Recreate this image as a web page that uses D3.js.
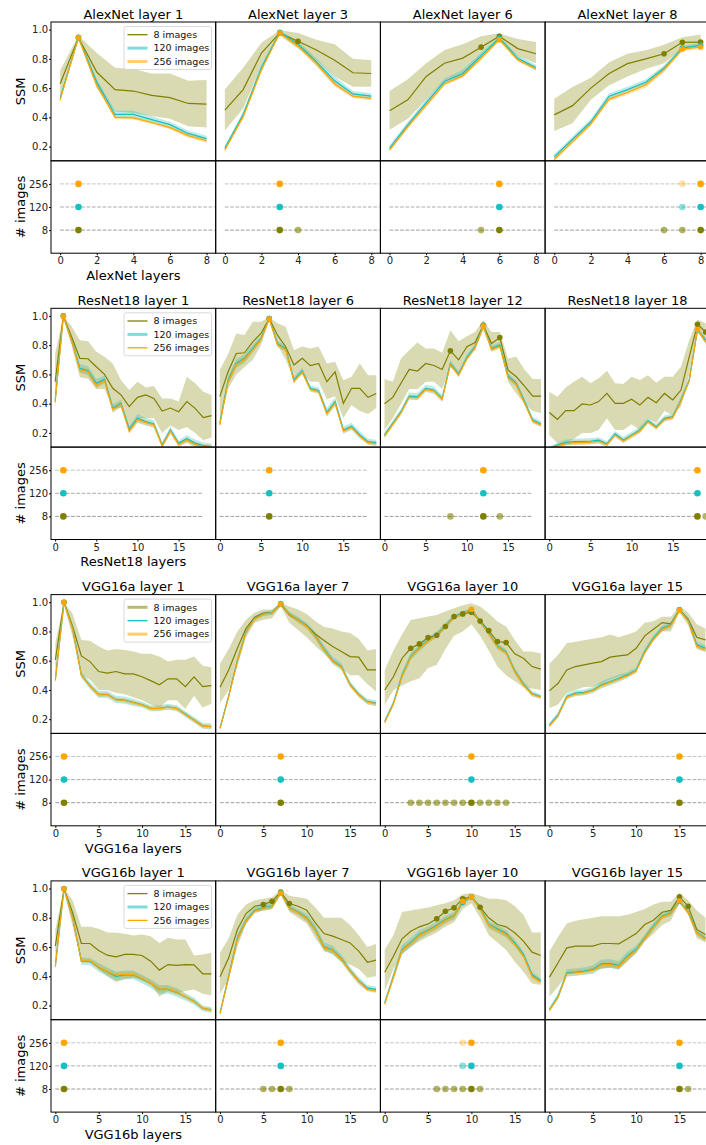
<!DOCTYPE html>
<html>
<head>
<meta charset="utf-8">
<script src="https://cdn.jsdelivr.net/npm/d3@7/dist/d3.min.js"></script>
<style>
  body { margin: 0; background: #fff; }
  svg { display: block; font-family: "DejaVu Sans", sans-serif; }
</style>
</head>
<body>
<div id="chart"></div>
<script>
// ---- categories / ticks ----
var models = ["AlexNet", "ResNet18", "VGG16a", "VGG16b"];
var nLayers = [9, 20, 19, 19];
var xTickValues = [[0, 2, 4, 6, 8], [0, 5, 10, 15], [0, 5, 10, 15], [0, 5, 10, 15]];
var targetLayers = [[1, 3, 6, 8], [1, 6, 12, 18], [1, 7, 10, 15], [1, 7, 10, 15]];
var imageCounts = ["8", "120", "256"];
var seriesLabels = ["8 images", "120 images", "256 images"];
var ssmTicks = [0.2, 0.4, 0.6, 0.8, 1.0];

// ---- AlexNet ----
var alex1_m8   = [0.63, 0.945, 0.71, 0.59, 0.58, 0.55, 0.535, 0.495, 0.49];
var alex1_lo8  = [0.53, 0.93, 0.60, 0.44, 0.43, 0.41, 0.39, 0.34, 0.33];
var alex1_hi8  = [0.72, 0.96, 0.84, 0.74, 0.73, 0.70, 0.70, 0.65, 0.655];
var alex1_m120 = [0.53, 0.947, 0.64, 0.42, 0.42, 0.385, 0.35, 0.29, 0.255];
var alex1_sd120 = [0.015, 0.01, 0.02, 0.025, 0.025, 0.022, 0.02, 0.02, 0.02];
var alex1_m256 = [0.52, 0.945, 0.62, 0.40, 0.397, 0.365, 0.33, 0.275, 0.24];
var alex1_sd256 = [0.012, 0.01, 0.018, 0.012, 0.012, 0.012, 0.012, 0.014, 0.014];

var alex3_m8   = [0.45, 0.59, 0.84, 0.977, 0.92, 0.86, 0.79, 0.705, 0.70];
var alex3_lo8  = [0.31, 0.46, 0.75, 0.96, 0.87, 0.79, 0.68, 0.61, 0.61];
var alex3_hi8  = [0.59, 0.74, 0.91, 0.995, 0.977, 0.93, 0.90, 0.80, 0.79];
var alex3_m120 = [0.19, 0.42, 0.74, 0.982, 0.90, 0.78, 0.65, 0.56, 0.545];
var alex3_sd120 = [0.015, 0.02, 0.02, 0.01, 0.02, 0.025, 0.03, 0.02, 0.02];
var alex3_m256 = [0.177, 0.405, 0.725, 0.977, 0.89, 0.77, 0.63, 0.545, 0.53];
var alex3_sd256 = [0.012, 0.015, 0.015, 0.01, 0.015, 0.02, 0.02, 0.015, 0.015];

var alex6_m8   = [0.445, 0.52, 0.68, 0.77, 0.805, 0.88, 0.955, 0.87, 0.835];
var alex6_lo8  = [0.315, 0.39, 0.52, 0.65, 0.68, 0.82, 0.93, 0.82, 0.77];
var alex6_hi8  = [0.58, 0.66, 0.77, 0.86, 0.90, 0.955, 0.975, 0.935, 0.915];
var alex6_m120 = [0.19, 0.35, 0.50, 0.645, 0.70, 0.82, 0.943, 0.805, 0.74];
var alex6_sd120 = [0.02, 0.02, 0.02, 0.02, 0.025, 0.02, 0.01, 0.02, 0.02];
var alex6_m256 = [0.177, 0.337, 0.483, 0.63, 0.685, 0.806, 0.931, 0.794, 0.733];
var alex6_sd256 = [0.012, 0.015, 0.015, 0.015, 0.015, 0.015, 0.01, 0.012, 0.012];

var alex8_m8   = [0.417, 0.48, 0.60, 0.70, 0.767, 0.80, 0.835, 0.913, 0.915];
var alex8_lo8  = [0.307, 0.36, 0.52, 0.62, 0.68, 0.73, 0.77, 0.87, 0.886];
var alex8_hi8  = [0.527, 0.607, 0.67, 0.776, 0.835, 0.858, 0.897, 0.947, 0.966];
var alex8_m120 = [0.13, 0.25, 0.37, 0.545, 0.59, 0.64, 0.737, 0.874, 0.893];
var alex8_sd120 = [0.02, 0.02, 0.02, 0.02, 0.02, 0.02, 0.02, 0.015, 0.015];
var alex8_m256 = [0.113, 0.234, 0.355, 0.525, 0.57, 0.623, 0.726, 0.867, 0.881];
var alex8_sd256 = [0.015, 0.015, 0.015, 0.015, 0.015, 0.02, 0.02, 0.015, 0.015];

// ---- ResNet18 ----
var res1_m8   = [0.55, 1.0, 0.857, 0.71, 0.707, 0.652, 0.60, 0.505, 0.46, 0.38, 0.443, 0.46, 0.436, 0.35, 0.37, 0.345, 0.414, 0.368, 0.305, 0.318];
var res1_lo8  = [0.37, 0.98, 0.80, 0.58, 0.57, 0.50, 0.50, 0.37, 0.37, 0.22, 0.30, 0.30, 0.30, 0.20, 0.25, 0.22, 0.24, 0.20, 0.15, 0.17];
var res1_hi8  = [0.74, 1.0, 0.93, 0.834, 0.827, 0.755, 0.72, 0.675, 0.56, 0.493, 0.55, 0.51, 0.52, 0.436, 0.436, 0.414, 0.584, 0.539, 0.482, 0.459];
var res1_m120 = [0.42, 1.0, 0.834, 0.641, 0.625, 0.539, 0.566, 0.368, 0.402, 0.225, 0.30, 0.277, 0.261, 0.118, 0.22, 0.13, 0.16, 0.13, 0.114, 0.107];
var res1_sd120 = [0.02, 0.005, 0.02, 0.03, 0.03, 0.03, 0.025, 0.03, 0.025, 0.02, 0.03, 0.025, 0.025, 0.02, 0.025, 0.02, 0.025, 0.025, 0.02, 0.02];
var res1_m256 = [0.41, 0.998, 0.83, 0.633, 0.618, 0.525, 0.558, 0.36, 0.395, 0.21, 0.29, 0.27, 0.255, 0.11, 0.213, 0.12, 0.15, 0.12, 0.108, 0.105];
var res1_sd256 = [0.015, 0.005, 0.015, 0.02, 0.02, 0.02, 0.02, 0.02, 0.02, 0.015, 0.02, 0.02, 0.02, 0.015, 0.02, 0.015, 0.02, 0.02, 0.015, 0.015];

var res6_m8   = [0.448, 0.618, 0.743, 0.748, 0.823, 0.88, 0.982, 0.868, 0.789, 0.664, 0.71, 0.66, 0.675, 0.55, 0.618, 0.402, 0.505, 0.505, 0.443, 0.47];
var res6_lo8  = [0.28, 0.50, 0.60, 0.65, 0.70, 0.80, 0.97, 0.80, 0.70, 0.57, 0.60, 0.55, 0.55, 0.43, 0.45, 0.30, 0.39, 0.35, 0.33, 0.37];
var res6_hi8  = [0.63, 0.74, 0.88, 0.87, 0.96, 0.96, 0.99, 0.95, 0.925, 0.766, 0.79, 0.777, 0.79, 0.675, 0.686, 0.56, 0.584, 0.675, 0.595, 0.595];
var res6_m120 = [0.266, 0.56, 0.675, 0.71, 0.777, 0.845, 0.982, 0.81, 0.777, 0.56, 0.625, 0.505, 0.49, 0.34, 0.414, 0.22, 0.245, 0.186, 0.14, 0.134];
var res6_sd120 = [0.02, 0.03, 0.03, 0.03, 0.025, 0.02, 0.01, 0.02, 0.02, 0.02, 0.02, 0.02, 0.02, 0.03, 0.03, 0.025, 0.025, 0.025, 0.02, 0.02];
var res6_m256 = [0.255, 0.55, 0.668, 0.703, 0.77, 0.84, 0.978, 0.802, 0.77, 0.553, 0.617, 0.497, 0.482, 0.332, 0.405, 0.213, 0.238, 0.178, 0.133, 0.126];
var res6_sd256 = [0.015, 0.02, 0.02, 0.02, 0.02, 0.015, 0.01, 0.015, 0.015, 0.015, 0.015, 0.015, 0.015, 0.02, 0.02, 0.015, 0.015, 0.015, 0.015, 0.015];

var res12_m8   = [0.40, 0.443, 0.54, 0.634, 0.623, 0.675, 0.661, 0.634, 0.761, 0.70, 0.789, 0.818, 0.936, 0.811, 0.852, 0.63, 0.584, 0.52, 0.452, 0.452];
var res12_lo8  = [0.22, 0.30, 0.40, 0.50, 0.50, 0.55, 0.55, 0.50, 0.65, 0.60, 0.72, 0.77, 0.90, 0.76, 0.80, 0.55, 0.47, 0.40, 0.35, 0.334];
var res12_hi8  = [0.568, 0.55, 0.709, 0.766, 0.818, 0.777, 0.777, 0.748, 0.902, 0.827, 0.861, 0.89, 0.97, 0.89, 0.89, 0.709, 0.72, 0.634, 0.568, 0.568];
var res12_m120 = [0.186, 0.266, 0.345, 0.452, 0.448, 0.505, 0.493, 0.436, 0.675, 0.602, 0.716, 0.789, 0.936, 0.777, 0.80, 0.589, 0.539, 0.414, 0.289, 0.261];
var res12_sd120 = [0.02, 0.02, 0.02, 0.025, 0.025, 0.025, 0.025, 0.025, 0.02, 0.02, 0.02, 0.02, 0.01, 0.02, 0.02, 0.02, 0.02, 0.02, 0.02, 0.02];
var res12_m256 = [0.178, 0.258, 0.338, 0.445, 0.44, 0.498, 0.486, 0.43, 0.668, 0.595, 0.708, 0.782, 0.93, 0.77, 0.792, 0.58, 0.53, 0.405, 0.28, 0.255];
var res12_sd256 = [0.015, 0.015, 0.015, 0.015, 0.015, 0.015, 0.015, 0.015, 0.015, 0.015, 0.015, 0.015, 0.01, 0.015, 0.015, 0.015, 0.015, 0.015, 0.015, 0.015];

var res18_m8   = [0.339, 0.293, 0.352, 0.352, 0.398, 0.391, 0.414, 0.47, 0.402, 0.402, 0.43, 0.391, 0.443, 0.407, 0.47, 0.425, 0.493, 0.72, 0.943, 0.89];
var res18_lo8  = [0.186, 0.13, 0.13, 0.16, 0.20, 0.20, 0.22, 0.30, 0.22, 0.22, 0.26, 0.22, 0.30, 0.27, 0.35, 0.32, 0.38, 0.60, 0.90, 0.82];
var res18_hi8  = [0.482, 0.448, 0.511, 0.55, 0.584, 0.539, 0.573, 0.625, 0.539, 0.534, 0.584, 0.561, 0.595, 0.543, 0.584, 0.584, 0.652, 0.834, 0.975, 0.95];
var res18_m120 = [0.095, 0.118, 0.134, 0.141, 0.141, 0.143, 0.15, 0.125, 0.193, 0.152, 0.186, 0.22, 0.284, 0.243, 0.30, 0.311, 0.425, 0.561, 0.905, 0.834];
var res18_sd120 = [0.01, 0.015, 0.02, 0.02, 0.02, 0.02, 0.02, 0.02, 0.02, 0.02, 0.02, 0.02, 0.02, 0.02, 0.02, 0.02, 0.02, 0.02, 0.015, 0.02];
var res18_m256 = [0.09, 0.11, 0.127, 0.133, 0.134, 0.137, 0.143, 0.12, 0.186, 0.145, 0.18, 0.213, 0.277, 0.236, 0.293, 0.305, 0.418, 0.555, 0.907, 0.82];
var res18_sd256 = [0.01, 0.01, 0.015, 0.015, 0.015, 0.015, 0.015, 0.015, 0.015, 0.015, 0.015, 0.015, 0.015, 0.015, 0.015, 0.015, 0.015, 0.015, 0.012, 0.015];

// ---- VGG16a ----
var vgga1_m8   = [0.606, 1.0, 0.834, 0.633, 0.594, 0.526, 0.515, 0.526, 0.51, 0.51, 0.49, 0.464, 0.435, 0.476, 0.476, 0.423, 0.49, 0.423, 0.43];
var vgga1_lo8  = [0.46, 0.98, 0.76, 0.50, 0.47, 0.40, 0.40, 0.38, 0.37, 0.35, 0.33, 0.30, 0.28, 0.33, 0.33, 0.27, 0.36, 0.28, 0.305];
var vgga1_hi8  = [0.72, 1.0, 0.92, 0.742, 0.736, 0.697, 0.67, 0.68, 0.674, 0.663, 0.647, 0.647, 0.628, 0.594, 0.606, 0.606, 0.628, 0.565, 0.556];
var vgga1_m120 = [0.47, 1.0, 0.82, 0.503, 0.43, 0.37, 0.37, 0.335, 0.33, 0.315, 0.30, 0.275, 0.275, 0.285, 0.275, 0.235, 0.195, 0.155, 0.15];
var vgga1_sd120 = [0.02, 0.005, 0.02, 0.02, 0.025, 0.025, 0.025, 0.025, 0.025, 0.025, 0.02, 0.02, 0.02, 0.02, 0.02, 0.02, 0.02, 0.02, 0.02];
var vgga1_m256 = [0.465, 0.998, 0.815, 0.50, 0.427, 0.367, 0.368, 0.333, 0.328, 0.313, 0.298, 0.273, 0.273, 0.283, 0.273, 0.233, 0.193, 0.153, 0.148];
var vgga1_sd256 = [0.015, 0.005, 0.015, 0.015, 0.015, 0.015, 0.015, 0.015, 0.015, 0.015, 0.015, 0.015, 0.015, 0.015, 0.015, 0.015, 0.015, 0.015, 0.015];

var vgga7_m8   = [0.419, 0.537, 0.685, 0.822, 0.897, 0.925, 0.929, 0.986, 0.913, 0.879, 0.84, 0.783, 0.738, 0.697, 0.663, 0.628, 0.624, 0.537, 0.537];
var vgga7_lo8  = [0.31, 0.40, 0.56, 0.76, 0.86, 0.88, 0.89, 0.97, 0.86, 0.81, 0.76, 0.70, 0.65, 0.59, 0.55, 0.50, 0.50, 0.44, 0.39];
var vgga7_hi8  = [0.58, 0.68, 0.80, 0.88, 0.93, 0.95, 0.95, 0.995, 0.97, 0.95, 0.92, 0.87, 0.83, 0.82, 0.80, 0.79, 0.75, 0.67, 0.68];
var vgga7_m120 = [0.14, 0.36, 0.60, 0.80, 0.89, 0.92, 0.93, 0.99, 0.92, 0.88, 0.84, 0.77, 0.68, 0.60, 0.56, 0.44, 0.37, 0.32, 0.31];
var vgga7_sd120 = [0.015, 0.02, 0.02, 0.02, 0.015, 0.015, 0.015, 0.01, 0.015, 0.02, 0.02, 0.025, 0.025, 0.025, 0.025, 0.02, 0.02, 0.02, 0.02];
var vgga7_m256 = [0.137, 0.355, 0.595, 0.797, 0.887, 0.918, 0.928, 0.987, 0.917, 0.877, 0.835, 0.765, 0.675, 0.595, 0.555, 0.435, 0.365, 0.318, 0.305];
var vgga7_sd256 = [0.012, 0.015, 0.015, 0.015, 0.012, 0.012, 0.012, 0.01, 0.012, 0.015, 0.015, 0.015, 0.015, 0.015, 0.015, 0.015, 0.015, 0.015, 0.015];

var vgga10_m8   = [0.40, 0.49, 0.617, 0.685, 0.715, 0.758, 0.774, 0.834, 0.902, 0.92, 0.932, 0.872, 0.806, 0.731, 0.724, 0.647, 0.617, 0.56, 0.542];
var vgga10_lo8  = [0.298, 0.40, 0.43, 0.46, 0.48, 0.55, 0.57, 0.68, 0.77, 0.80, 0.85, 0.77, 0.67, 0.56, 0.50, 0.46, 0.42, 0.41, 0.40];
var vgga10_hi8  = [0.537, 0.67, 0.78, 0.879, 0.89, 0.902, 0.913, 0.936, 0.959, 0.98, 0.993, 0.97, 0.925, 0.868, 0.834, 0.742, 0.663, 0.663, 0.65];
var vgga10_m120 = [0.184, 0.31, 0.50, 0.63, 0.69, 0.74, 0.78, 0.84, 0.90, 0.925, 0.95, 0.87, 0.79, 0.70, 0.66, 0.53, 0.44, 0.375, 0.355];
var vgga10_sd120 = [0.015, 0.02, 0.025, 0.025, 0.025, 0.02, 0.02, 0.02, 0.015, 0.015, 0.01, 0.015, 0.02, 0.02, 0.02, 0.02, 0.02, 0.02, 0.015];
var vgga10_m256 = [0.178, 0.305, 0.495, 0.625, 0.685, 0.735, 0.775, 0.835, 0.895, 0.92, 0.952, 0.865, 0.785, 0.695, 0.655, 0.525, 0.435, 0.37, 0.35];
var vgga10_sd256 = [0.012, 0.015, 0.015, 0.015, 0.015, 0.015, 0.015, 0.015, 0.012, 0.012, 0.01, 0.012, 0.015, 0.015, 0.015, 0.015, 0.015, 0.015, 0.012];

var vgga15_m8   = [0.394, 0.446, 0.537, 0.56, 0.572, 0.583, 0.594, 0.624, 0.633, 0.64, 0.685, 0.77, 0.815, 0.861, 0.852, 0.948, 0.884, 0.76, 0.742];
var vgga15_lo8  = [0.275, 0.30, 0.38, 0.40, 0.42, 0.42, 0.44, 0.47, 0.49, 0.50, 0.55, 0.65, 0.74, 0.80, 0.80, 0.93, 0.84, 0.68, 0.66];
var vgga15_hi8  = [0.58, 0.64, 0.72, 0.73, 0.74, 0.75, 0.76, 0.78, 0.76, 0.78, 0.80, 0.86, 0.87, 0.90, 0.90, 0.97, 0.93, 0.85, 0.82];
var vgga15_m120 = [0.161, 0.23, 0.355, 0.378, 0.383, 0.40, 0.435, 0.458, 0.48, 0.503, 0.537, 0.663, 0.754, 0.822, 0.845, 0.948, 0.879, 0.708, 0.685];
var vgga15_sd120 = [0.015, 0.02, 0.02, 0.02, 0.02, 0.02, 0.025, 0.025, 0.025, 0.02, 0.02, 0.02, 0.02, 0.02, 0.02, 0.01, 0.015, 0.02, 0.02];
var vgga15_m256 = [0.155, 0.225, 0.35, 0.372, 0.378, 0.395, 0.43, 0.452, 0.474, 0.497, 0.53, 0.656, 0.747, 0.815, 0.84, 0.945, 0.872, 0.70, 0.678];
var vgga15_sd256 = [0.012, 0.015, 0.015, 0.015, 0.015, 0.015, 0.015, 0.015, 0.015, 0.015, 0.015, 0.015, 0.015, 0.015, 0.015, 0.01, 0.012, 0.015, 0.015];

// ---- VGG16b ----
var vggb1_m8   = [0.606, 0.998, 0.834, 0.624, 0.624, 0.576, 0.544, 0.533, 0.549, 0.549, 0.542, 0.503, 0.442, 0.48, 0.474, 0.48, 0.478, 0.417, 0.417];
var vggb1_lo8  = [0.46, 0.98, 0.74, 0.51, 0.51, 0.45, 0.40, 0.36, 0.38, 0.39, 0.38, 0.35, 0.26, 0.30, 0.28, 0.30, 0.31, 0.28, 0.27];
var vggb1_hi8  = [0.72, 1.0, 0.92, 0.738, 0.738, 0.724, 0.70, 0.697, 0.69, 0.679, 0.685, 0.674, 0.628, 0.663, 0.651, 0.651, 0.542, 0.549, 0.56];
var vggb1_m120 = [0.47, 1.0, 0.80, 0.503, 0.50, 0.46, 0.43, 0.40, 0.41, 0.41, 0.38, 0.35, 0.31, 0.31, 0.29, 0.26, 0.23, 0.18, 0.17];
var vggb1_sd120 = [0.02, 0.005, 0.02, 0.025, 0.025, 0.03, 0.03, 0.03, 0.03, 0.03, 0.03, 0.03, 0.03, 0.03, 0.03, 0.025, 0.025, 0.02, 0.02];
var vggb1_m256 = [0.465, 0.998, 0.795, 0.505, 0.505, 0.462, 0.432, 0.408, 0.412, 0.412, 0.385, 0.352, 0.312, 0.312, 0.292, 0.262, 0.228, 0.182, 0.168];
var vggb1_sd256 = [0.015, 0.005, 0.015, 0.015, 0.015, 0.02, 0.02, 0.02, 0.02, 0.02, 0.02, 0.02, 0.02, 0.02, 0.02, 0.02, 0.015, 0.015, 0.015];

var vggb7_m8   = [0.396, 0.526, 0.72, 0.829, 0.879, 0.89, 0.913, 0.975, 0.897, 0.879, 0.852, 0.765, 0.692, 0.674, 0.651, 0.628, 0.572, 0.496, 0.51];
var vggb7_lo8  = [0.28, 0.38, 0.60, 0.76, 0.84, 0.85, 0.86, 0.96, 0.84, 0.80, 0.76, 0.66, 0.58, 0.55, 0.50, 0.48, 0.45, 0.39, 0.40];
var vggb7_hi8  = [0.56, 0.66, 0.82, 0.89, 0.92, 0.93, 0.94, 0.99, 0.95, 0.94, 0.93, 0.87, 0.80, 0.80, 0.80, 0.75, 0.68, 0.60, 0.62];
var vggb7_m120 = [0.15, 0.40, 0.66, 0.78, 0.85, 0.87, 0.88, 0.97, 0.87, 0.84, 0.80, 0.72, 0.60, 0.58, 0.52, 0.44, 0.37, 0.32, 0.31];
var vggb7_sd120 = [0.015, 0.025, 0.03, 0.025, 0.02, 0.02, 0.02, 0.01, 0.02, 0.02, 0.025, 0.03, 0.03, 0.03, 0.025, 0.025, 0.025, 0.02, 0.02];
var vggb7_m256 = [0.145, 0.395, 0.655, 0.775, 0.845, 0.865, 0.875, 0.968, 0.865, 0.835, 0.795, 0.715, 0.595, 0.575, 0.515, 0.435, 0.365, 0.31, 0.30];
var vggb7_sd256 = [0.012, 0.015, 0.02, 0.015, 0.015, 0.015, 0.015, 0.01, 0.015, 0.015, 0.015, 0.02, 0.02, 0.02, 0.02, 0.02, 0.02, 0.015, 0.015];

var vggb10_m8   = [0.428, 0.537, 0.656, 0.708, 0.738, 0.758, 0.793, 0.845, 0.868, 0.929, 0.943, 0.872, 0.80, 0.754, 0.738, 0.697, 0.64, 0.565, 0.542];
var vggb10_lo8  = [0.30, 0.45, 0.55, 0.60, 0.64, 0.67, 0.70, 0.74, 0.77, 0.86, 0.90, 0.80, 0.68, 0.63, 0.58, 0.50, 0.43, 0.35, 0.34];
var vggb10_hi8  = [0.583, 0.68, 0.84, 0.85, 0.86, 0.87, 0.885, 0.90, 0.92, 0.96, 0.97, 0.95, 0.93, 0.93, 0.92, 0.88, 0.82, 0.70, 0.70];
var vggb10_m120 = [0.22, 0.40, 0.583, 0.63, 0.685, 0.715, 0.747, 0.788, 0.815, 0.905, 0.943, 0.868, 0.754, 0.724, 0.692, 0.628, 0.55, 0.41, 0.37];
var vggb10_sd120 = [0.015, 0.03, 0.03, 0.03, 0.03, 0.025, 0.025, 0.025, 0.025, 0.015, 0.01, 0.02, 0.025, 0.025, 0.025, 0.025, 0.02, 0.02, 0.015];
var vggb10_m256 = [0.21, 0.395, 0.578, 0.625, 0.68, 0.71, 0.742, 0.783, 0.81, 0.913, 0.943, 0.862, 0.75, 0.718, 0.686, 0.62, 0.54, 0.40, 0.36];
var vggb10_sd256 = [0.012, 0.02, 0.02, 0.02, 0.02, 0.02, 0.02, 0.02, 0.02, 0.012, 0.01, 0.015, 0.02, 0.02, 0.02, 0.02, 0.015, 0.015, 0.012];

var vggb15_m8   = [0.394, 0.492, 0.594, 0.606, 0.606, 0.606, 0.624, 0.624, 0.622, 0.656, 0.692, 0.754, 0.783, 0.838, 0.85, 0.943, 0.879, 0.72, 0.685];
var vggb15_lo8  = [0.26, 0.33, 0.41, 0.43, 0.43, 0.44, 0.45, 0.46, 0.45, 0.50, 0.56, 0.64, 0.69, 0.75, 0.78, 0.90, 0.83, 0.66, 0.63];
var vggb15_hi8  = [0.57, 0.67, 0.76, 0.78, 0.79, 0.80, 0.81, 0.81, 0.81, 0.82, 0.84, 0.86, 0.89, 0.91, 0.91, 0.97, 0.92, 0.85, 0.80];
var vggb15_m120 = [0.173, 0.264, 0.423, 0.428, 0.435, 0.446, 0.485, 0.487, 0.474, 0.537, 0.583, 0.663, 0.742, 0.811, 0.834, 0.913, 0.84, 0.70, 0.66];
var vggb15_sd120 = [0.015, 0.02, 0.025, 0.025, 0.025, 0.03, 0.03, 0.03, 0.03, 0.03, 0.025, 0.025, 0.025, 0.02, 0.02, 0.015, 0.02, 0.02, 0.02];
var vggb15_m256 = [0.168, 0.258, 0.418, 0.423, 0.43, 0.44, 0.478, 0.48, 0.468, 0.53, 0.577, 0.657, 0.736, 0.805, 0.828, 0.915, 0.835, 0.695, 0.655];
var vggb15_sd256 = [0.012, 0.015, 0.02, 0.02, 0.02, 0.02, 0.02, 0.02, 0.02, 0.02, 0.02, 0.02, 0.02, 0.015, 0.015, 0.012, 0.015, 0.015, 0.015];

// best layer (full dot) and not-significantly-different layers (faded dot), per image count [8, 120, 256]
var bestLayers = [
  [[[1], [1], [1]], [[3], [3], [3]], [[6], [6], [6]], [[8], [8], [8]]],
  [[[1], [1], [1]], [[6], [6], [6]], [[12], [12], [12]], [[18], [18], [18]]],
  [[[1], [1], [1]], [[7], [7], [7]], [[10], [10], [10]], [[15], [15], [15]]],
  [[[1], [1], [1]], [[7], [7], [7]], [[10], [10], [10]], [[15], [15], [15]]]
];
var nearLayers = [
  [[[], [], []], [[4], [], []], [[5], [], []], [[6, 7], [7], [7]]],
  [[[], [], []], [[], [], []], [[8, 14], [], []], [[19], [], []]],
  [[[], [], []], [[], [], []], [[3, 4, 5, 6, 7, 8, 9, 11, 12, 13, 14], [], []], [[], [], []]],
  [[[], [], []], [[5, 6, 8], [], []], [[6, 7, 8, 9, 11], [9], [9]], [[16], [], []]]
];

// table of panels, built from the arrays above
var panelData = [
  [[alex1_m8, alex1_lo8, alex1_hi8, alex1_m120, alex1_sd120, alex1_m256, alex1_sd256],
   [alex3_m8, alex3_lo8, alex3_hi8, alex3_m120, alex3_sd120, alex3_m256, alex3_sd256],
   [alex6_m8, alex6_lo8, alex6_hi8, alex6_m120, alex6_sd120, alex6_m256, alex6_sd256],
   [alex8_m8, alex8_lo8, alex8_hi8, alex8_m120, alex8_sd120, alex8_m256, alex8_sd256]],
  [[res1_m8, res1_lo8, res1_hi8, res1_m120, res1_sd120, res1_m256, res1_sd256],
   [res6_m8, res6_lo8, res6_hi8, res6_m120, res6_sd120, res6_m256, res6_sd256],
   [res12_m8, res12_lo8, res12_hi8, res12_m120, res12_sd120, res12_m256, res12_sd256],
   [res18_m8, res18_lo8, res18_hi8, res18_m120, res18_sd120, res18_m256, res18_sd256]],
  [[vgga1_m8, vgga1_lo8, vgga1_hi8, vgga1_m120, vgga1_sd120, vgga1_m256, vgga1_sd256],
   [vgga7_m8, vgga7_lo8, vgga7_hi8, vgga7_m120, vgga7_sd120, vgga7_m256, vgga7_sd256],
   [vgga10_m8, vgga10_lo8, vgga10_hi8, vgga10_m120, vgga10_sd120, vgga10_m256, vgga10_sd256],
   [vgga15_m8, vgga15_lo8, vgga15_hi8, vgga15_m120, vgga15_sd120, vgga15_m256, vgga15_sd256]],
  [[vggb1_m8, vggb1_lo8, vggb1_hi8, vggb1_m120, vggb1_sd120, vggb1_m256, vggb1_sd256],
   [vggb7_m8, vggb7_lo8, vggb7_hi8, vggb7_m120, vggb7_sd120, vggb7_m256, vggb7_sd256],
   [vggb10_m8, vggb10_lo8, vggb10_hi8, vggb10_m120, vggb10_sd120, vggb10_m256, vggb10_sd256],
   [vggb15_m8, vggb15_lo8, vggb15_hi8, vggb15_m120, vggb15_sd120, vggb15_m256, vggb15_sd256]]
];

// ---- layout / style ----
var svgWidth = 706;
var svgHeight = 1145;
var left = 51;
var colW = 164.7;
var rowTop0 = 22;
var rowStep = 286.3;
var topH = 138.8;
var botH = 92.4;

var colors = ["#808000", "#17bfc0", "#ffa500"];
var fadeAlpha = [0.6, 0.5, 0.35];
var dashColors = ["#9c9c9c", "#ababab", "#c4c4c4"];
var dashEnd = [8.45, 18, 18, 18];
// legend handle type per row: "line" = thin line, "band" = thick faded line
var legendStyle = [["line", "band", "band"], ["line", "band", "line"], ["band", "line", "band"], ["line", "band", "line"]];

var svg = d3.select("#chart").append("svg")
  .attr("width", svgWidth)
  .attr("height", svgHeight);

var yScale = d3.scaleLinear().domain([0.103, 1.052]).range([topH, 0]);
var yImg = d3.scaleLinear().domain([-1, 3]).range([botH, 0]);

models.forEach(function(model, r) {
  var n = nLayers[r];
  var xScale = d3.scaleLinear().domain([-0.5, n - 0.5]).range([0, colW]);
  var layers = d3.range(n);
  var rowTop = rowTop0 + r * rowStep;

  targetLayers[r].forEach(function(target, c) {
    var d = panelData[r][c];
    var means = [d[0], d[3], d[5]];
    var los = [d[1], d[3].map((v, i) => v - d[4][i]), d[5].map((v, i) => v - d[6][i])];
    var his = [d[2], d[3].map((v, i) => v + d[4][i]), d[5].map((v, i) => v + d[6][i])];
    var x0 = left + c * colW;

    // title
    svg.append("text")
      .attr("x", x0 + colW / 2)
      .attr("y", rowTop - 3.5)
      .attr("text-anchor", "middle")
      .attr("font-size", "13px")
      .attr("fill", "#000")
      .text(model + " layer " + target);

    // ---- top panel (SSM) ----
    var top = svg.append("g").attr("transform", `translate(${x0}, ${rowTop})`);
    var clipId = "clip-" + r + "-" + c;
    top.append("clipPath").attr("id", clipId)
      .append("rect").attr("width", colW).attr("height", topH);
    var plot = top.append("g").attr("clip-path", `url(#${clipId})`);

    var area = d3.area()
      .x(i => xScale(i));
    var line = d3.line()
      .x(i => xScale(i));

    [0, 1, 2].forEach(function(s) {
      plot.append("path")
        .datum(layers)
        .attr("d", area.y0(i => yScale(los[s][i])).y1(i => yScale(his[s][i])))
        .attr("fill", colors[s])
        .attr("fill-opacity", 0.3);
    });
    [0, 1, 2].forEach(function(s) {
      plot.append("path")
        .datum(layers)
        .attr("d", line.y(i => yScale(means[s][i])))
        .attr("fill", "none")
        .attr("stroke", colors[s])
        .attr("stroke-width", 1.2);
    });
    [0, 1, 2].forEach(function(s) {
      var pts = bestLayers[r][c][s].concat(nearLayers[r][c][s]);
      plot.selectAll(null)
        .data(pts)
        .enter()
        .append("circle")
        .attr("cx", i => xScale(i))
        .attr("cy", i => yScale(means[s][i]))
        .attr("r", 2.8)
        .attr("fill", colors[s]);
    });

    top.append("rect")
      .attr("width", colW).attr("height", topH)
      .attr("fill", "none").attr("stroke", "#000").attr("stroke-width", 1);

    if (c === 0) {
      var yAxis = d3.axisLeft(yScale).tickValues(ssmTicks).tickFormat(d3.format(".1f"))
        .tickSize(2).tickPadding(1);
      var ga = top.append("g").call(yAxis);
      ga.select(".domain").remove();
      ga.selectAll("text").attr("font-size", "10px").attr("font-family", "DejaVu Sans").attr("fill", "#222");

      top.append("text")
        .attr("transform", `translate(${20 - x0}, ${topH / 2}) rotate(-90)`)
        .attr("text-anchor", "middle")
        .attr("dy", "0.35em")
        .attr("font-size", "13px")
        .text("SSM");

      // legend
      var lg = top.append("g").attr("transform", "translate(73, 4.5)");
      lg.append("rect")
        .attr("width", 87.5).attr("height", 43).attr("rx", 2)
        .attr("fill", "#fff").attr("fill-opacity", 0.8)
        .attr("stroke", "#d0d0d0").attr("stroke-width", 0.8);
      seriesLabels.forEach(function(label, s) {
        var ly = 8.2 + s * 13.4;
        var style = legendStyle[r][s];
        lg.append("line")
          .attr("x1", 3.5).attr("x2", 23.5).attr("y1", ly).attr("y2", ly)
          .attr("stroke", colors[s])
          .attr("stroke-width", style === "band" ? 3 : 1.3)
          .attr("stroke-opacity", style === "band" ? 0.55 : 1);
        lg.append("text")
          .attr("x", 29.5).attr("y", ly).attr("dy", "0.35em")
          .attr("font-size", "9.5px")
          .attr("fill", "#111")
          .text(label);
      });
    }

    // ---- bottom panel (# images) ----
    var bot = svg.append("g").attr("transform", `translate(${x0}, ${rowTop + topH})`);
    [0, 1, 2].forEach(function(s) {
      bot.append("line")
        .attr("x1", xScale(0)).attr("x2", xScale(dashEnd[r]))
        .attr("y1", yImg(s)).attr("y2", yImg(s))
        .attr("stroke", dashColors[s])
        .attr("stroke-width", 1)
        .attr("stroke-dasharray", "3.7,1.6");
    });
    [0, 1, 2].forEach(function(s) {
      bot.selectAll(null)
        .data(nearLayers[r][c][s])
        .enter()
        .append("circle")
        .attr("cx", i => xScale(i))
        .attr("cy", yImg(s))
        .attr("r", 3.3)
        .attr("fill", colors[s])
        .attr("fill-opacity", fadeAlpha[s]);
      bot.selectAll(null)
        .data(bestLayers[r][c][s])
        .enter()
        .append("circle")
        .attr("cx", i => xScale(i))
        .attr("cy", yImg(s))
        .attr("r", 3.3)
        .attr("fill", colors[s]);
    });
    bot.append("rect")
      .attr("width", colW).attr("height", botH)
      .attr("fill", "none").attr("stroke", "#000").attr("stroke-width", 1);

    var xAxis = d3.axisBottom(xScale).tickValues(xTickValues[r]).tickFormat(d3.format("d"))
      .tickSize(2).tickPadding(2);
    var gx = bot.append("g").attr("transform", `translate(0, ${botH})`).call(xAxis);
    gx.select(".domain").remove();
    gx.selectAll("text").attr("font-size", "10px").attr("font-family", "DejaVu Sans").attr("fill", "#222");

    if (c === 0) {
      var yAxis2 = d3.axisLeft(yImg).tickValues([0, 1, 2]).tickFormat(i => imageCounts[i])
        .tickSize(2).tickPadding(1);
      var gb = bot.append("g").call(yAxis2);
      gb.select(".domain").remove();
      gb.selectAll("text").attr("font-size", "10px").attr("font-family", "DejaVu Sans").attr("fill", "#222");

      bot.append("text")
        .attr("transform", `translate(${20 - x0}, ${botH / 2}) rotate(-90)`)
        .attr("text-anchor", "middle")
        .attr("dy", "0.35em")
        .attr("font-size", "13px")
        .text("# images");

      bot.append("text")
        .attr("x", colW / 2)
        .attr("y", botH + 27)
        .attr("text-anchor", "middle")
        .attr("font-size", "13px")
        .text(model + " layers");
    }
  });
});
</script>
</body>
</html>
